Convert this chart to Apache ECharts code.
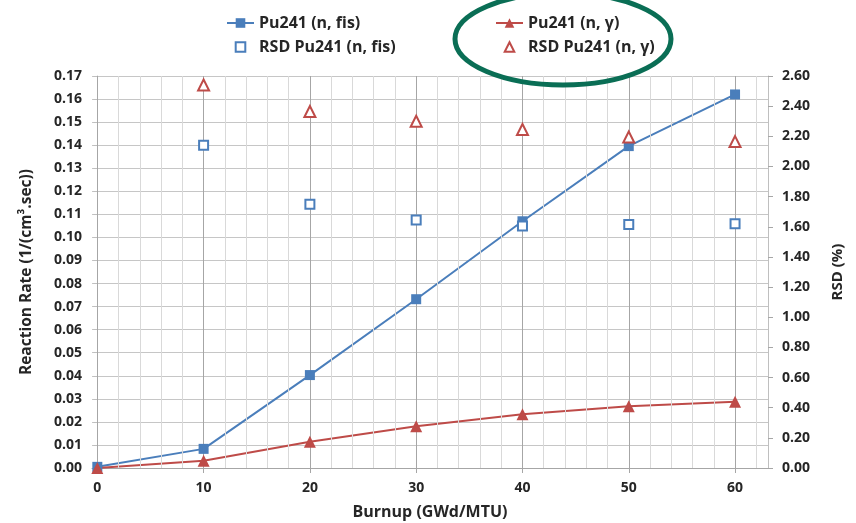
<!DOCTYPE html>
<html>
<head>
<meta charset="utf-8">
<script src="https://cdn.jsdelivr.net/npm/echarts@6/dist/echarts.min.js"></script>
<style>html,body{margin:0;background:#fff}#chart{width:856px;height:523px}</style>
</head>
<body>
<div id="chart"></div>
<script>
// values
const burnup = [0, 10, 20, 30, 40, 50, 60];
const rateFis = [0.0005, 0.0083, 0.0403, 0.0732, 0.1070, 0.1396, 0.1620];
const rateGamma = [0.0000, 0.0031, 0.0114, 0.0181, 0.0233, 0.0268, 0.0287];
const rsdFis = [null, 2.14, 1.75, 1.645, 1.605, 1.615, 1.62];
const rsdGamma = [null, 2.54, 2.365, 2.30, 2.245, 2.195, 2.165];
const xMajorTicks = [0, 10, 20, 30, 40, 50, 60];
const xMinorTicks = [2, 4, 6, 8, 12, 14, 16, 18, 22, 24, 26, 28, 32, 34, 36, 38, 42, 44, 46, 48, 52, 54, 56, 58, 62];

const font = 'Open Sans';
const txt = '#262626';
const blue = '#4A7EBB';
const red = '#BE4B48';

const pairs = (ys) => burnup.map((x, i) => [x, ys[i]]).filter(p => p[1] != null);

let chart = echarts.init(document.getElementById('chart'));
chart.setOption({
    animation: false,
    textStyle: { fontFamily: font },
    grid: { left: 92, right: 88, top: 76, bottom: 55, outerBoundsMode: 'none' },
    legend: [
      {
        left: 221, top: 9, orient: 'vertical', itemWidth: 27, itemHeight: 12, itemGap: 6,
        textStyle: { fontFamily: font, fontWeight: 'bold', fontSize: 16, color: txt, lineHeight: 18 },
        data: ['Pu241 (n, fis)', 'RSD Pu241 (n, fis)']
      },
      {
        left: 490, top: 9, orient: 'vertical', itemWidth: 27, itemHeight: 12, itemGap: 6,
        textStyle: { fontFamily: font, fontWeight: 'bold', fontSize: 16, color: txt, lineHeight: 18 },
        data: ['Pu241 (n, γ)', 'RSD Pu241 (n, γ)']
      }
    ],
    graphic: [{
      type: 'ellipse',
      shape: { cx: 563, cy: 39, rx: 108, ry: 46 },
      style: { fill: 'none', stroke: '#0A6E55', lineWidth: 5 },
      z: 100
    }],
    xAxis: {
      type: 'value', min: -0.5, max: 63.1,
      name: 'Burnup (GWd/MTU)', nameLocation: 'middle', nameGap: 36,
      nameTextStyle: { fontFamily: font, fontWeight: 'bold', fontSize: 16, color: txt },
      axisLine: { show: true, onZero: false, lineStyle: { color: '#A6A6A6' } },
      axisTick: { show: true, length: 5, customValues: xMajorTicks, lineStyle: { color: '#A6A6A6' } },
      axisLabel: { customValues: xMajorTicks, margin: 13, fontFamily: font, fontWeight: 'bold', fontSize: 14, color: txt },
      splitLine: { show: true, lineStyle: { color: '#A6A6A6', width: 1 } },
      z: 3
    },
    yAxis: [
      {
        type: 'value', min: 0, max: 0.17, interval: 0.01,
        name: 'Reaction Rate (1/(cm³.sec))', nameLocation: 'middle', nameGap: 57,
        nameTextStyle: { fontFamily: font, fontWeight: 'bold', fontSize: 15.5, color: txt },
        axisLine: { show: true, lineStyle: { color: '#BFBFBF' } },
        axisTick: { show: true, length: 4, lineStyle: { color: '#BFBFBF' } },
        axisLabel: { margin: 10, fontFamily: font, fontWeight: 'bold', fontSize: 14, color: txt,
                     formatter: (v) => v.toFixed(2) },
        splitLine: { show: true, lineStyle: { color: '#C6C6C6', width: 1 } }
      },
      {
        type: 'value', min: 0, max: 2.6, interval: 0.2, position: 'right',
        name: 'RSD (%)', nameLocation: 'middle', nameGap: 62,
        nameTextStyle: { fontFamily: font, fontWeight: 'bold', fontSize: 15, color: txt },
        axisLine: { show: true, lineStyle: { color: '#BFBFBF' } },
        axisTick: { show: true, length: 5, lineStyle: { color: '#A6A6A6' } },
        axisLabel: { margin: 14, fontFamily: font, fontWeight: 'bold', fontSize: 14, color: txt,
                     formatter: (v) => v.toFixed(2) },
        splitLine: { show: false }
      }
    ],
    series: [
      {
        // carrier for the minor vertical grid lines
        type: 'line', data: [], z: 1, silent: true,
        markLine: {
          silent: true, symbol: 'none', label: { show: false },
          lineStyle: { color: '#D9D9D9', type: 'solid', width: 1 },
          data: xMinorTicks.map(x => ({ xAxis: x }))
        }
      },
      {
        name: 'Pu241 (n, fis)', type: 'line', data: pairs(rateFis), z: 3,
        symbol: 'rect', symbolSize: 10,
        itemStyle: { color: blue }, lineStyle: { color: blue, width: 2 }
      },
      {
        name: 'Pu241 (n, γ)', type: 'line', data: pairs(rateGamma), z: 3,
        symbol: 'triangle', symbolSize: 12,
        itemStyle: { color: red }, lineStyle: { color: red, width: 2 }
      },
      {
        name: 'RSD Pu241 (n, fis)', type: 'line', yAxisIndex: 1, data: pairs(rsdFis), z: 4,
        symbol: 'emptyRect', symbolSize: 9,
        itemStyle: { color: blue, borderWidth: 2 }, lineStyle: { width: 0 }
      },
      {
        name: 'RSD Pu241 (n, γ)', type: 'line', yAxisIndex: 1, data: pairs(rsdGamma), z: 4,
        symbol: 'emptyTriangle', symbolSize: 11,
        itemStyle: { color: red, borderWidth: 2 }, lineStyle: { width: 0 }
      }
    ]
});
</script>
</body>
</html>
